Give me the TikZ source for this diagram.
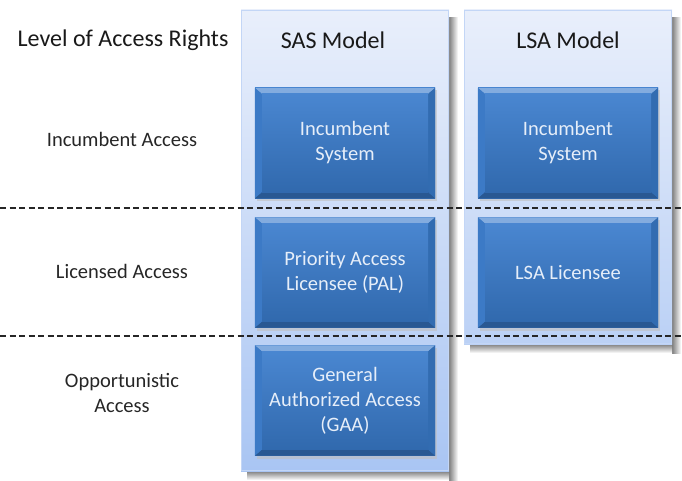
\documentclass[tikz,border=0pt]{standalone}
\usepackage{fontspec}
\setmainfont{Carlito}
\usetikzlibrary{calc}
\definecolor{paneltop}{HTML}{E9EFFB}
\definecolor{panelbot}{HTML}{A9C5F3}
\definecolor{boxtop}{HTML}{4080CE}
\definecolor{boxbot}{HTML}{3068AC}
\definecolor{boxtxt}{HTML}{E6EEF9}
\definecolor{shadowgray}{HTML}{7E7E7E}
\tikzset{
  cell/.style={draw=none, minimum width=180pt, minimum height=110pt, inner sep=0pt,
    top color=boxtop, bottom color=boxbot, text=boxtxt, align=center,
    font=\fontsize{20.5}{25}\selectfont},
  rowlabel/.style={align=center, font=\fontsize{20.5}{25}\selectfont, text=black!85},
  header/.style={font=\fontsize{24}{28}\selectfont, text=black!90},
  divider/.style={black!85, line width=1.1pt, dash pattern=on 6pt off 3.5pt},
}
\begin{document}
\begin{tikzpicture}[x=1pt, y=-1pt]
\useasboundingbox (0,0) rectangle (682,481);

% column panels with soft drop shadows
\foreach \xa/\xb/\yb/\mix in {241/449/471/100, 464/672/344/72} {
  \shade[left color=shadowgray, right color=white] (\xb,18) rectangle (\xb+9,\yb+9);
  \shade[top color=shadowgray, bottom color=white] (\xa+6,\yb) rectangle (\xb,\yb+9);
  \shade[top color=paneltop, bottom color=panelbot!\mix!paneltop] (\xa,10) rectangle (\xb,\yb);
  \draw[panelbot!60!paneltop, line width=0.6pt] (\xa+0.3,10.3) rectangle (\xb-0.3,\yb-0.3);
}

% level dividers
\coordinate (d1w) at (0,208);
\coordinate (d1e) at (682,208);
\coordinate (d2w) at (0,336);
\coordinate (d2e) at (682,336);
\draw[divider] (d1w) -- (d1e);
\draw[divider] (d2w) -- (d2e);

% headings
\node[header] (lvl) at (123,40) {Level of Access Rights};
\node[header] (sas) at (333,40) {SAS Model};
\node[header] (lsa) at (568,40) {LSA Model};

% row labels
\node[rowlabel] (rinc) at (122,139) {Incumbent Access};
\node[rowlabel] (rlic) at (122,271) {Licensed Access};
\node[rowlabel] (ropp) at (122,393) {Opportunistic\\Access};

% bevelled cell boxes
\foreach \n/\cx/\cy/\t in {
  sinc/345/143/{Incumbent\\System},
  spal/345/272.5/{Priority Access\\Licensee (PAL)},
  sgaa/345/400.5/{General\\Authorized Access\\(GAA)},
  linc/568/143/{Incumbent\\System},
  llic/568/272.5/{LSA Licensee}} {
  \fill[black!25, opacity=0.6] (\cx-88,\cy-53) rectangle (\cx+92,\cy+58);
  \node[cell] (\n) at (\cx,\cy) {};
  \fill[boxtop!65!white] (\n.north west) -- (\n.north east) -- ($(\n.north east)+(-7,6)$) -- ($(\n.north west)+(7,6)$) -- cycle;
  \fill[boxbot!85!black] (\n.south west) -- (\n.south east) -- ($(\n.south east)+(-7,-6)$) -- ($(\n.south west)+(7,-6)$) -- cycle;
  \fill[boxbot!85!boxtop] (\n.north east) -- (\n.south east) -- ($(\n.south east)+(-7,-6)$) -- ($(\n.north east)+(-7,6)$) -- cycle;
  \fill[boxtop!75!boxbot] (\n.north west) -- (\n.south west) -- ($(\n.south west)+(7,-6)$) -- ($(\n.north west)+(7,6)$) -- cycle;
  \node[cell, minimum width=166pt, minimum height=98pt, top color=boxtop!95!white, bottom color=boxbot!95!boxtop] at (\cx,\cy) {\t};
}
\end{tikzpicture}
\end{document}
